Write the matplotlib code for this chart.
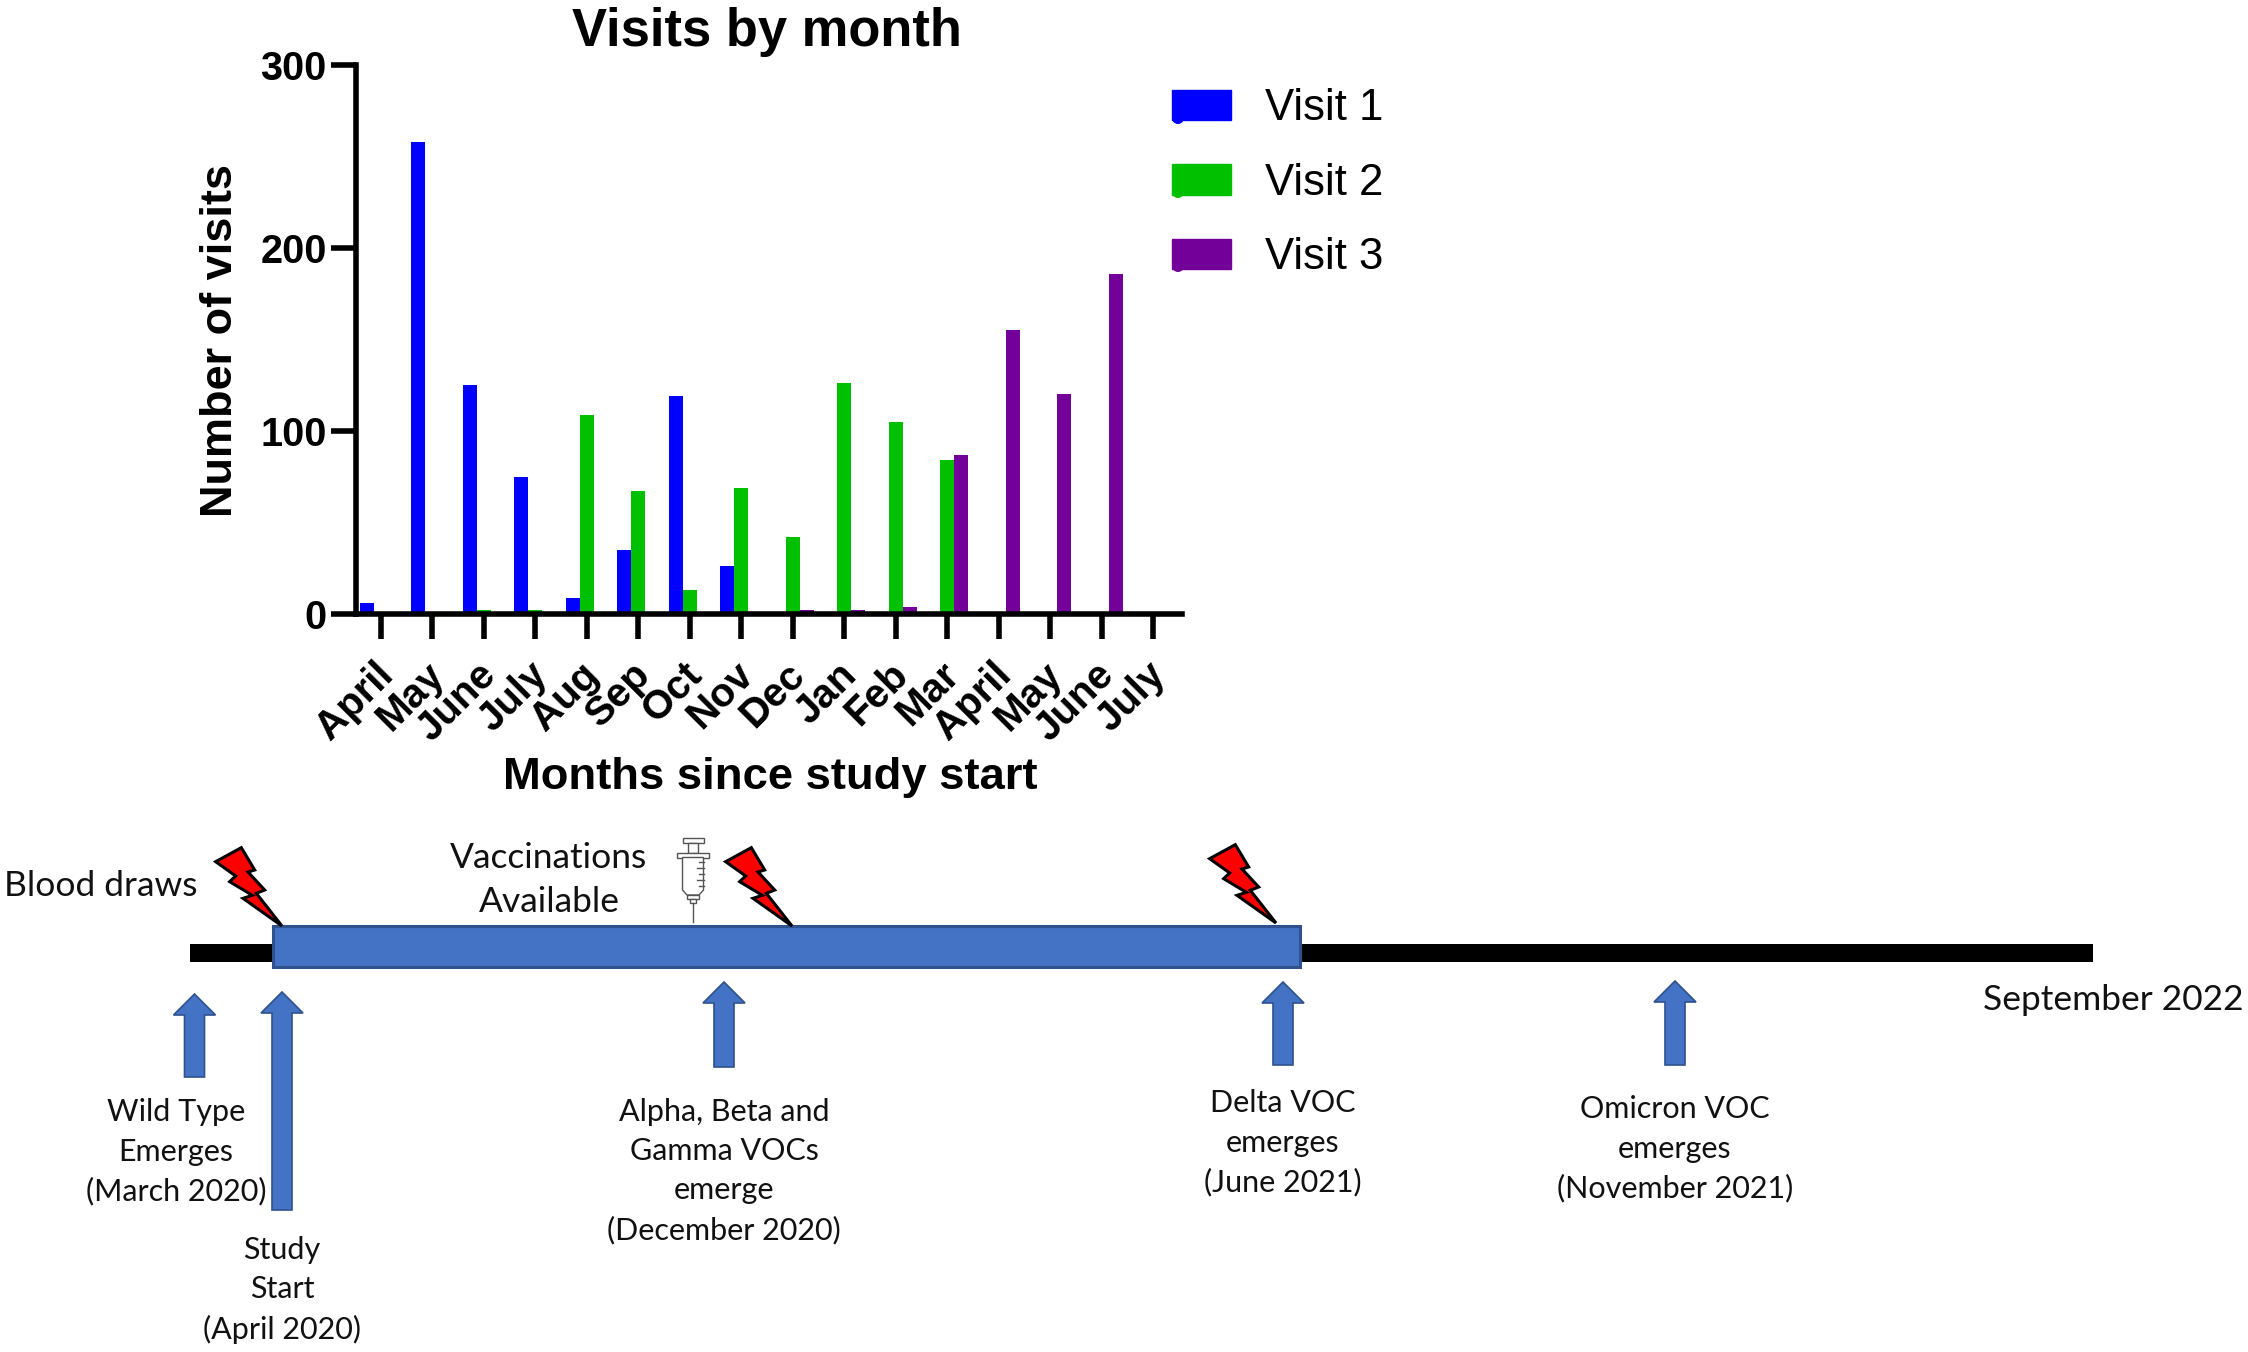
import matplotlib
matplotlib.use("Agg")
import matplotlib.pyplot as plt
from matplotlib.patches import Patch, Polygon, Rectangle, Circle
from matplotlib.transforms import ScaledTranslation
import numpy as np

W, H = 2248, 1352
months = ["April","May","June","July","Aug","Sep","Oct","Nov","Dec","Jan","Feb","Mar","April","May","June","July"]
visit1 = [6,258,125,75,9,35,119,26,0,0,0,0,0,0,0,0]
visit2 = [0,0,2,2,109,67,13,69,42,126,105,84,0,0,0,0]
visit3 = [0,0,0,0,0,0,0,0,2,2,4,87,155,120,186,0]
series = [("Visit 1",visit1,"#0000FF"),("Visit 2",visit2,"#00C000"),("Visit 3",visit3,"#730099")]
BAR = "#4472C4"; EDGE = "#2F528F"

plt.rcParams["font.family"] = ["Liberation Sans","DejaVu Sans"]
fig = plt.figure(figsize=(W/100,H/100),dpi=100,facecolor="white")

# ---- bar chart
L,R,T,B = 356,1182,65,614
ax = fig.add_axes([L/W,1-B/H,(R-L)/W,(B-T)/H])
x = np.arange(len(months))
w = 0.272
for i,(name,vals,col) in enumerate(series):
    ax.bar(x+(i-1)*w,vals,w,color=col,label=name,zorder=2)
ax.set_xlim(-0.476,15.56); ax.set_ylim(0,300)
ax.set_yticks([0,100,200,300])
ax.set_xticks(x)
ax.set_xticklabels(months,rotation=45,ha="right",va="top",rotation_mode="anchor",fontweight="bold",fontsize=29)
ax.tick_params(axis="both",width=4,length=18)
ax.tick_params(axis="x",pad=14,labelsize=29)
ax.tick_params(axis="y",pad=3,labelsize=28.5)
shift = ScaledTranslation(-7/100,3/100,fig.dpi_scale_trans)
for t in ax.get_xticklabels(): t.set_transform(t.get_transform()+shift)
for t in ax.get_yticklabels(): t.set_fontweight("bold")
for s in ("top","right"): ax.spines[s].set_visible(False)
for s in ("left","bottom"): ax.spines[s].set_linewidth(4); ax.spines[s].set_zorder(3)
ax.patch.set_alpha(0)
fig.text(767/W,1-32/H,"Visits by month",fontsize=37.8,fontweight="bold",ha="center",va="center")
fig.text(770/W,1-778/H,"Months since study start",fontsize=32.7,fontweight="bold",ha="center",va="center")
fig.text(221/W,1-340/H,"Number of visits",fontsize=32.5,fontweight="bold",ha="center",va="center",rotation=90)
handles = [Patch(color=c,label=n) for n,_,c in series]
leg = fig.legend(handles=handles,loc="upper left",bbox_to_anchor=(1172/W,1-88/H),frameon=False,fontsize=31.5,
    handlelength=1.35,handleheight=0.69,handletextpad=0.78,labelspacing=0.77,borderpad=0,borderaxespad=0)

# ---- timeline drawing in pixel coordinates
ov = fig.add_axes([0,0,1,1],facecolor="none")
ov.set_xlim(0,W); ov.set_ylim(H,0); ov.axis("off")
for (name,_,c),yy in zip(series,(118,192,266)):
    ov.add_patch(Circle((1178,yy),6,color=c,lw=0))
ov.add_patch(Rectangle((190,944),1903,18,color="black",lw=0))
ov.add_patch(Rectangle((273,926),1027,41,facecolor=BAR,edgecolor=EDGE,lw=2.2))

def arrow(cx,tip,bottom):
    sw,hw,hh = 10,21,21
    ov.add_patch(Polygon([(cx,tip),(cx+hw,tip+hh),(cx+sw,tip+hh),(cx+sw,bottom),(cx-sw,bottom),(cx-sw,tip+hh),(cx-hw,tip+hh)],
        closed=True,facecolor=BAR,edgecolor=EDGE,lw=1.2))
arrow(194.5,994,1077); arrow(282,992,1210); arrow(724,982,1067); arrow(1283,982,1065); arrow(1675,981,1065)

bolt = np.array([(395,85),(435,152),(415,158),(465,212),(440,222),(517,320),(400,237),(428,228),(360,187),(378,170),(318,127)],float)
bolt = (bolt-np.array([517,320]))/3
for tx,ty in ((282,926),(792,926),(1276,923)):
    ov.add_patch(Polygon(bolt+np.array([tx,ty]),closed=True,facecolor="#FF0000",edgecolor="black",lw=2.2,joinstyle="miter"))

# syringe
sc = "#555555"
cx = 693
ov.add_patch(Rectangle((cx-10.5,838),21,5,facecolor="white",edgecolor=sc,lw=1))
ov.add_patch(Rectangle((cx-5,843),10,10,facecolor="white",edgecolor=sc,lw=1))
ov.add_patch(Rectangle((cx-16,853),32,4.5,facecolor="white",edgecolor=sc,lw=1))
ov.add_patch(Polygon([(cx-10.5,857.5),(cx+10.5,857.5),(cx+10.5,890),(cx+6,895),(cx-6,895),(cx-10.5,890)],closed=True,facecolor="white",edgecolor=sc,lw=1))
ov.add_patch(Rectangle((cx-6,895),12,4,facecolor="white",edgecolor=sc,lw=1))
ov.add_patch(Rectangle((cx-3,899),6,4,facecolor="white",edgecolor=sc,lw=1))
ov.plot([cx,cx],[903,922],color=sc,lw=1)
for yy,l in zip((862,868,874,880,886),(5,7,5,7,5)):
    ov.plot([cx+10.5-l,cx+10.5],[yy,yy],color=sc,lw=1)

def label(x,y,s,ha="center",ls=1.0,fs=22):
    ov.text(x,y,s,family="Lato",fontsize=fs,ha=ha,va="center",multialignment="center" if ha=="center" else ha,linespacing=ls,color="#111111")
label(4,886,"Blood draws",ha="left",fs=25.5)
label(549,880,"Vaccinations\nAvailable",ls=1.5,fs=25.5)
label(176,1152,"Wild Type\nEmerges\n(March 2020)",ls=1.48)
label(282,1290,"Study\nStart\n(April 2020)",ls=1.48)
label(724,1171,"Alpha, Beta and\nGamma VOCs\nemerge\n(December 2020)",ls=1.48)
label(1283,1143,"Delta VOC\nemerges\n(June 2021)",ls=1.48)
label(1675,1149,"Omicron VOC\nemerges\n(November 2021)",ls=1.48)
label(2244,1000,"September 2022",ha="right",fs=25.5)

fig.savefig("out.png",dpi=100,facecolor="white")
